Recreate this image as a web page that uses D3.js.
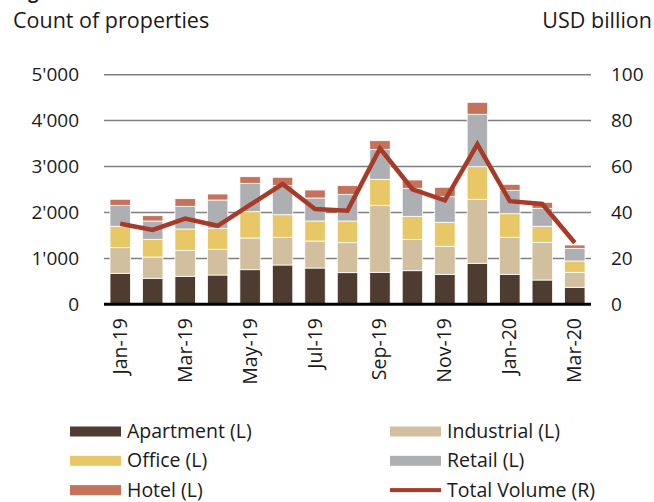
<!DOCTYPE html>
<html>
<head>
<meta charset="utf-8">
<script src="https://cdn.jsdelivr.net/npm/d3@7"></script>
<style>
  body { margin: 0; background: #fff; }
  text { font-family: "Open Sans", sans-serif; fill: #1a1a1a; }
</style>
</head>
<body>
<svg width="654" height="502"></svg>
<script>
// monthly data, Jan-19 .. Mar-20
var months = ["Jan-19", "Feb-19", "Mar-19", "Apr-19", "May-19", "Jun-19", "Jul-19", "Aug-19",
    "Sep-19", "Oct-19", "Nov-19", "Dec-19", "Jan-20", "Feb-20", "Mar-20"];
var apartment = [675, 566, 610, 638, 754, 856, 790, 689, 697, 732, 653, 893, 653, 529, 370];
var industrial = [558, 464, 566, 560, 690, 603, 588, 653, 1459, 683, 610, 1394, 806, 821, 327];
var office = [465, 385, 464, 457, 573, 492, 436, 472, 566, 501, 523, 710, 514, 349, 246];
var retail = [458, 399, 494, 616, 618, 640, 501, 581, 653, 610, 557, 1141, 510, 392, 276];
var hotel = [131, 116, 166, 131, 144, 175, 174, 189, 188, 181, 205, 261, 130, 130, 72];
var totalVolume = [35.1, 32.4, 37.3, 34.2, 43.3, 52.4, 41.5, 40.8, 67.9, 50.1, 45.3, 69.7, 44.9, 43.7, 26.8];

var leftTicks = [0, 1000, 2000, 3000, 4000, 5000];
var rightTicks = [0, 20, 40, 60, 80, 100];

var seriesNames = ["Apartment (L)", "Industrial (L)", "Office (L)", "Retail (L)", "Hotel (L)"];
var colors = ["#4e3c30", "#d2bf9d", "#e8c766", "#aeafb2", "#c4725a"];
var lineColor = "#a83a28";

var svg = d3.select("svg");

var x = d3.scaleBand().domain(months).range([104, 591])
    .paddingInner(0.37).paddingOuter(0.185);
var yL = d3.scaleLinear().domain([0, 5000]).range([304.3, 74.7]);
var yR = d3.scaleLinear().domain([0, 100]).range([304.3, 74.7]);

var rows = months.map(function (m, i) {
    return {month: m, a: apartment[i], b: industrial[i], c: office[i], d: retail[i], e: hotel[i]};
});
var stack = d3.stack().keys(["a", "b", "c", "d", "e"]);
var layers = stack(rows);

// cut-off figure title at the very top
svg.append("text").attr("x", 13).attr("y", -1)
    .style("font-weight", "bold").style("font-size", "18px")
    .text("Figure 3: Transactions");

svg.append("text").attr("x", 13).attr("y", 28).style("font-size", "21.5px")
    .text("Count of properties");
svg.append("text").attr("x", 652).attr("y", 28).attr("text-anchor", "end")
    .style("font-size", "21.5px").text("USD billion");

// grid
svg.append("g").selectAll("line").data(leftTicks.slice(1)).enter().append("line")
    .attr("x1", 104).attr("x2", 591)
    .attr("y1", function (d) { return yL(d); })
    .attr("y2", function (d) { return yL(d); })
    .attr("stroke", "#808080").attr("stroke-width", 1.5);

var fmt = function (d) { return d3.format(",")(d).replace(",", "'"); };

svg.append("g").attr("transform", "translate(104,0)")
    .call(d3.axisLeft(yL).tickValues(leftTicks).tickFormat(fmt).tickSize(0).tickPadding(25))
    .call(function (g) { g.select(".domain").remove(); })
    .selectAll("text").style("font-size", "19px").style("font-family", "Open Sans").attr("fill", "#1a1a1a");

svg.append("g").attr("transform", "translate(591,0)")
    .call(d3.axisRight(yR).tickValues(rightTicks).tickSize(0).tickPadding(20))
    .call(function (g) { g.select(".domain").remove(); })
    .selectAll("text").style("font-size", "19px").style("font-family", "Open Sans").attr("fill", "#1a1a1a");

// bars
svg.append("g").selectAll("g").data(layers).enter().append("g")
    .attr("fill", function (d, i) { return colors[i]; })
    .selectAll("rect").data(function (d) { return d; }).enter().append("rect")
    .attr("x", function (d) { return x(d.data.month); })
    .attr("width", x.bandwidth())
    .attr("y", function (d) { return yL(d[1]); })
    .attr("height", function (d) { return yL(d[0]) - yL(d[1]); })
    .attr("stroke", "#fff").attr("stroke-width", 0.8);

// baseline
svg.append("line").attr("x1", 104).attr("x2", 591)
    .attr("y1", yL(0)).attr("y2", yL(0))
    .attr("stroke", "#000").attr("stroke-width", 3);

// total volume line
var line = d3.line()
    .x(function (d, i) { return x(months[i]) + x.bandwidth() / 2; })
    .y(function (d) { return yR(d); });
svg.append("path").datum(totalVolume).attr("d", line)
    .attr("fill", "none").attr("stroke", lineColor).attr("stroke-width", 4.5)
    .attr("stroke-linejoin", "miter");

// x labels (every other month)
svg.append("g").selectAll("text").data(months.filter(function (d, i) { return i % 2 === 0; }))
    .enter().append("text")
    .attr("transform", function (d) {
        return "translate(" + (x(d) + x.bandwidth() / 2 + 6.5) + ",318) rotate(-90)";
    })
    .attr("text-anchor", "end").style("font-size", "19.5px")
    .text(function (d) { return d; });

// legend
var legendItems = [
    {name: seriesNames[0], color: colors[0], type: "bar"},
    {name: seriesNames[1], color: colors[1], type: "bar"},
    {name: seriesNames[2], color: colors[2], type: "bar"},
    {name: seriesNames[3], color: colors[3], type: "bar"},
    {name: seriesNames[4], color: colors[4], type: "bar"},
    {name: "Total Volume (R)", color: lineColor, type: "line"}
];
var lg = svg.append("g").selectAll("g").data(legendItems).enter().append("g")
    .attr("transform", function (d, i) {
        return "translate(" + (i % 2 === 0 ? 70 : 390) + "," + (431.5 + Math.floor(i / 2) * 29.3) + ")";
    });
lg.append("rect")
    .attr("x", 0).attr("width", 51)
    .attr("y", function (d) { return d.type === "bar" ? -5 : -2; })
    .attr("height", function (d) { return d.type === "bar" ? 10 : 4; })
    .attr("fill", function (d) { return d.color; });
lg.append("text").attr("x", 57).attr("y", 6.5).style("font-size", "19.5px")
    .text(function (d) { return d.name; });
</script>
</body>
</html>
